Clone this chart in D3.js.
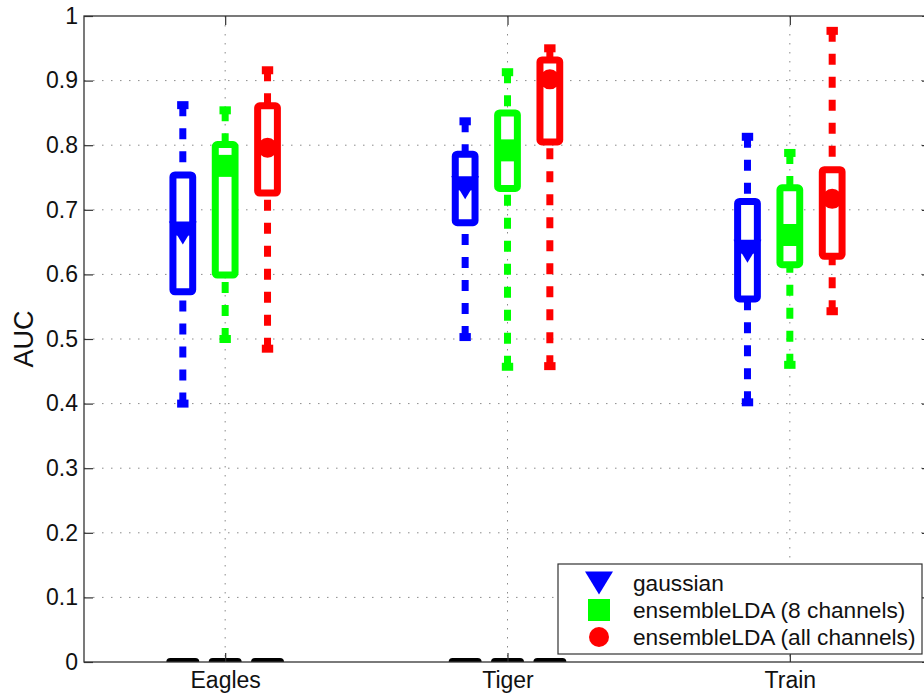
<!DOCTYPE html>
<html>
<head>
<meta charset="utf-8">
<script src="https://cdn.jsdelivr.net/npm/d3@7"></script>
<style>
  body { margin: 0; background: #fff; }
  svg { display: block; font-family: "Liberation Sans", Arial, sans-serif; }
</style>
</head>
<body>
<div id="wrapper"></div>
<script>
// categories and series
const groups = ['Eagles', 'Tiger', 'Train'];
const seriesNames = ['gaussian', 'ensembleLDA (8 channels)', 'ensembleLDA (all channels)'];
const seriesColors = ['#0000ff', '#00ff00', '#ff0000'];
const seriesMarkers = ['triangle', 'square', 'circle'];

// box statistics per series, one value per group
const gaussianLow    = [0.400, 0.503, 0.402];
const gaussianQ1     = [0.573, 0.680, 0.562];
const gaussianMedian = [0.664, 0.734, 0.636];
const gaussianQ3     = [0.754, 0.786, 0.713];
const gaussianHigh   = [0.862, 0.837, 0.813];

const lda8Low    = [0.500, 0.457, 0.460];
const lda8Q1     = [0.599, 0.733, 0.615];
const lda8Median = [0.768, 0.792, 0.661];
const lda8Q3     = [0.801, 0.850, 0.734];
const lda8High   = [0.854, 0.913, 0.788];

const ldaAllLow    = [0.485, 0.458, 0.543];
const ldaAllQ1     = [0.726, 0.805, 0.628];
const ldaAllMedian = [0.796, 0.902, 0.717];
const ldaAllQ3     = [0.861, 0.932, 0.762];
const ldaAllHigh   = [0.916, 0.950, 0.977];

// the black stubs sitting on the zero line (none visible for Train)
const zeroMarks = [0, 0, null];

const yTicks = [0, 0.1, 0.2, 0.3, 0.4, 0.5, 0.6, 0.7, 0.8, 0.9, 1];
const yLabel = 'AUC';

const stats = [
  { low: gaussianLow, q1: gaussianQ1, med: gaussianMedian, q3: gaussianQ3, high: gaussianHigh },
  { low: lda8Low, q1: lda8Q1, med: lda8Median, q3: lda8Q3, high: lda8High },
  { low: ldaAllLow, q1: ldaAllQ1, med: ldaAllMedian, q3: ldaAllQ3, high: ldaAllHigh },
];

const dimensions = {
  width: 924,
  height: 693,
  margin: { top: 16, left: 84 },
  boundedWidth: 847,
  boundedHeight: 646,
};

const wrapper = d3.select('#wrapper')
  .append('svg')
  .attr('width', dimensions.width)
  .attr('height', dimensions.height);

const bounds = wrapper.append('g')
  .attr('transform', `translate(${dimensions.margin.left},${dimensions.margin.top})`);

wrapper.append('defs').append('clipPath').attr('id', 'plotClip')
  .append('rect')
  .attr('x', 0).attr('y', 0)
  .attr('width', dimensions.boundedWidth)
  .attr('height', dimensions.boundedHeight);

const xScale = d3.scaleLinear().domain([0.5, 3.5]).range([0, dimensions.boundedWidth]);
const yScale = d3.scaleLinear().domain([0, 1]).range([dimensions.boundedHeight, 0]);

const offsets = [-0.15, 0, 0.15];
const boxHalf = 0.035;
const capHalf = 0.006;
const boxPx = xScale(boxHalf) - xScale(0);
const capPx = xScale(capHalf) - xScale(0);

// dotted grid
const grid = bounds.append('g');
grid.selectAll('.hgrid')
  .data(yTicks.filter(d => d > 0 && d < 1))
  .join('line')
  .attr('x1', 0).attr('x2', dimensions.boundedWidth)
  .attr('y1', d => yScale(d)).attr('y2', d => yScale(d))
  .attr('stroke', '#8a8a8a').attr('stroke-width', 1)
  .attr('stroke-dasharray', '1.5,7.5');
grid.selectAll('.vgrid')
  .data(groups)
  .join('line')
  .attr('x1', (d, i) => xScale(i + 1)).attr('x2', (d, i) => xScale(i + 1))
  .attr('y1', 0).attr('y2', dimensions.boundedHeight)
  .attr('stroke', '#8a8a8a').attr('stroke-width', 1)
  .attr('stroke-dasharray', '1.5,7.5');

// boxes
const plot = bounds.append('g').attr('clip-path', 'url(#plotClip)');

stats.forEach((s, si) => {
  const color = seriesColors[si];
  const g = plot.append('g');
  groups.forEach((name, gi) => {
    const cx = xScale(gi + 1 + offsets[si]);

    // whiskers, dashed from the cap towards the box
    g.append('line')
      .attr('x1', cx).attr('x2', cx)
      .attr('y1', yScale(s.high[gi])).attr('y2', yScale(s.q3[gi]))
      .attr('stroke', color).attr('stroke-width', 7)
      .attr('stroke-dasharray', '11,12');
    g.append('line')
      .attr('x1', cx).attr('x2', cx)
      .attr('y1', yScale(s.low[gi])).attr('y2', yScale(s.q1[gi]))
      .attr('stroke', color).attr('stroke-width', 7)
      .attr('stroke-dasharray', '11,12');

    // whisker caps
    [s.high[gi], s.low[gi]].forEach(v => {
      g.append('line')
        .attr('x1', cx - capPx).attr('x2', cx + capPx)
        .attr('y1', yScale(v)).attr('y2', yScale(v))
        .attr('stroke', color).attr('stroke-width', 8)
        .attr('stroke-linecap', 'square');
    });

    // box
    g.append('rect')
      .attr('x', cx - boxPx)
      .attr('y', yScale(s.q3[gi]))
      .attr('width', boxPx * 2)
      .attr('height', yScale(s.q1[gi]) - yScale(s.q3[gi]))
      .attr('fill', '#fff')
      .attr('stroke', color).attr('stroke-width', 7)
      .attr('rx', 2);

    // median line
    g.append('line')
      .attr('x1', cx - boxPx).attr('x2', cx + boxPx)
      .attr('y1', yScale(s.med[gi])).attr('y2', yScale(s.med[gi]))
      .attr('stroke', color).attr('stroke-width', 5);

    drawMarker(g, seriesMarkers[si], cx, yScale(s.med[gi]), color);

    // zero stubs
    if (zeroMarks[gi] !== null) {
      g.append('line')
        .attr('x1', cx - 12.5).attr('x2', cx + 12.5)
        .attr('y1', yScale(zeroMarks[gi])).attr('y2', yScale(zeroMarks[gi]))
        .attr('stroke', '#000').attr('stroke-width', 8)
        .attr('stroke-linecap', 'round');
    }
  });
});

function drawMarker(sel, type, x, y, color) {
  if (type === 'triangle') {
    sel.append('path')
      .attr('d', `M${x - 14},${y - 11.5}L${x + 14},${y - 11.5}L${x},${y + 11.5}Z`)
      .attr('fill', color);
  } else if (type === 'square') {
    sel.append('rect')
      .attr('x', x - 11).attr('y', y - 11)
      .attr('width', 22).attr('height', 22)
      .attr('fill', color);
  } else {
    sel.append('circle')
      .attr('cx', x).attr('cy', y).attr('r', 10)
      .attr('fill', color);
  }
}

// axes
const yAxisGenerator = d3.axisLeft(yScale)
  .tickValues(yTicks)
  .tickFormat(d => String(+d.toFixed(1)))
  .tickSizeInner(-9)
  .tickSizeOuter(0)
  .tickPadding(6);
const yAxis = bounds.append('g').call(yAxisGenerator);

const yAxisRight = bounds.append('g')
  .attr('transform', `translate(${dimensions.boundedWidth},0)`)
  .call(d3.axisRight(yScale).tickValues(yTicks).tickSizeInner(-9).tickSizeOuter(0).tickFormat(''));

const xAxisGenerator = d3.axisBottom(xScale)
  .tickValues([1, 2, 3])
  .tickFormat(d => groups[d - 1])
  .tickSizeInner(-9)
  .tickSizeOuter(0)
  .tickPadding(10);
const xAxis = bounds.append('g')
  .attr('transform', `translate(0,${dimensions.boundedHeight})`)
  .call(xAxisGenerator);

const xAxisTop = bounds.append('g')
  .call(d3.axisTop(xScale).tickValues([1, 2, 3]).tickSizeInner(-9).tickSizeOuter(0).tickFormat(''));

[yAxis, yAxisRight, xAxis, xAxisTop].forEach(a => {
  a.select('.domain').remove();
  a.selectAll('.tick line').attr('stroke', '#333').attr('stroke-width', 1.2);
  a.selectAll('.tick text').attr('fill', '#111').style('font-size', '23px');
});

// frame
bounds.append('rect')
  .attr('x', 0).attr('y', 0)
  .attr('width', dimensions.boundedWidth)
  .attr('height', dimensions.boundedHeight)
  .attr('fill', 'none')
  .attr('stroke', '#333').attr('stroke-width', 1.3);

// y label
wrapper.append('text')
  .attr('transform', `translate(33,${dimensions.margin.top + yScale(0.5)}) rotate(-90)`)
  .attr('text-anchor', 'middle')
  .attr('fill', '#111')
  .style('font-size', '27px')
  .text(yLabel);

// legend
const legend = wrapper.append('g').attr('transform', 'translate(558,564)');
legend.append('rect')
  .attr('width', 364).attr('height', 90)
  .attr('fill', '#fff')
  .attr('stroke', '#333').attr('stroke-width', 1.2);
seriesNames.forEach((name, i) => {
  const yy = 19 + i * 27;
  drawMarker(legend, seriesMarkers[i], 41, yy, seriesColors[i]);
  legend.append('text')
    .attr('x', 75).attr('y', yy)
    .attr('dy', '0.35em')
    .attr('fill', '#111')
    .style('font-size', '22.7px')
    .text(name);
});
</script>
</body>
</html>
